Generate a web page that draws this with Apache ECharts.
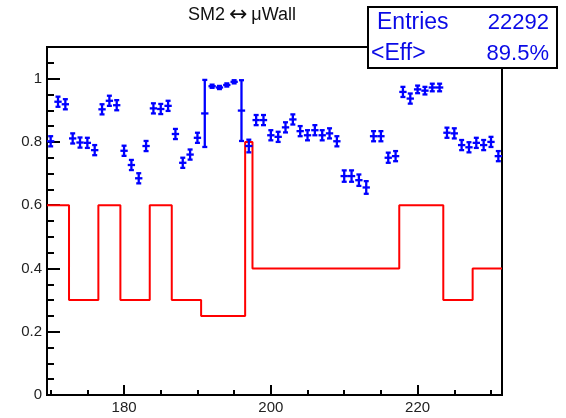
<!DOCTYPE html>
<html>
<head>
<meta charset="utf-8">
<script src="https://cdn.jsdelivr.net/npm/echarts@6/dist/echarts.min.js"></script>
<style>html,body{margin:0;padding:0;background:#fff}#c{width:566px;height:418px}</style>
</head>
<body>
<div id="c"></div>
<script>
// ---- data ----
const binCenters = [170,171,172,173,174,175,176,177,178,179,180,181,182,183,184,185,186,187,188,189,190,
  191,192,193,194,195,196,197,198,199,200,201,202,203,204,205,206,207,208,209,210,
  211,212,213,214,215,216,217,218,219,220,221,222,223,224,225,226,227,228,229,230,231];
const effValues = [0.802,0.927,0.919,0.811,0.798,0.797,0.774,0.903,0.930,0.916,0.772,0.727,0.685,0.787,0.906,0.904,0.914,0.825,0.734,0.760,0.813,
  0.890,0.976,0.972,0.980,0.990,0.899,0.787,0.869,0.869,0.821,0.816,0.846,0.871,0.834,0.821,0.837,0.821,0.827,0.802,0.692,
  0.692,0.679,0.656,0.818,0.818,0.750,0.755,0.958,0.937,0.966,0.962,0.972,0.972,0.829,0.827,0.790,0.783,0.797,0.790,0.800,0.755];
const effErrors = [0.016,0.016,0.016,0.016,0.016,0.016,0.016,0.016,0.016,0.016,0.016,0.016,0.016,0.016,0.016,0.016,0.016,0.016,0.016,0.016,0.016,
  0.106,0.005,0.005,0.005,0.005,0.096,0.02,0.016,0.016,0.016,0.016,0.016,0.016,0.016,0.016,0.016,0.016,0.016,0.016,0.018,
  0.018,0.018,0.02,0.016,0.016,0.016,0.016,0.016,0.016,0.012,0.012,0.012,0.012,0.016,0.016,0.016,0.016,0.016,0.016,0.016,0.016];
const refValues = [0.6,0.6,0.6,0.3,0.3,0.3,0.3,0.6,0.6,0.6,0.3,0.3,0.3,0.3,0.6,0.6,0.6,0.3,0.3,0.3,0.3,
  0.25,0.25,0.25,0.25,0.25,0.25,0.8,0.4,0.4,0.4,0.4,0.4,0.4,0.4,0.4,0.4,0.4,0.4,0.4,0.4,
  0.4,0.4,0.4,0.4,0.4,0.4,0.4,0.6,0.6,0.6,0.6,0.6,0.6,0.3,0.3,0.3,0.3,0.4,0.4,0.4,0.4];
const xMajorTicks = [180,200,220];
const xMinorTicks = [170,175,185,190,195,205,210,215,225,230];
const yMajorTicks = [0,0.2,0.4,0.6,0.8,1.0];
const yMinorTicks = [0.05,0.1,0.15,0.25,0.3,0.35,0.45,0.5,0.55,0.65,0.7,0.75,0.85,0.9,0.95,1.05];
const titleParts = ['SM2', '\u2194', '\u03bcWall'];
const statsRows = [['Entries','22292'],['<Eff>','89.5%']];

// ---- build ----
const xMin = 169.5, xMax = 231.5, yMin = 0, yMax = 1.1;
const stepData = [];
binCenters.forEach((c,i)=>{ stepData.push([c-0.5, refValues[i]]); stepData.push([c+0.5, refValues[i]]); });
const pointData = binCenters.map((c,i)=>[c, effValues[i], effErrors[i]]);

const FONT = "'Liberation Sans', Arial, sans-serif";
const WFONT = "'DejaVu Sans', sans-serif";
const gridRect = {left:47, right:64, top:47, bottom:23};

function renderItem(params, api){
  const x = api.value(0), y = api.value(1), e = api.value(2);
  const c = api.coord([x,y]);
  const l = api.coord([x-0.5,y]), r = api.coord([x+0.5,y]);
  const t = api.coord([x,y+e]), b = api.coord([x,y-e]);
  const st = {stroke:'#0000ff', lineWidth:2.3};
  const cap = 2.5;
  return {type:'group', children:[
    {type:'line', shape:{x1:l[0],y1:c[1],x2:r[0],y2:c[1]}, style:st},
    {type:'line', shape:{x1:c[0],y1:t[1],x2:c[0],y2:b[1]}, style:st},
    {type:'line', shape:{x1:c[0]-cap,y1:t[1],x2:c[0]+cap,y2:t[1]}, style:st},
    {type:'line', shape:{x1:c[0]-cap,y1:b[1],x2:c[0]+cap,y2:b[1]}, style:st}
  ]};
}

const chart = echarts.init(document.getElementById('c'), null, {renderer:'canvas'});
const axisLineStyle = {color:'#000', width:2};
const blue = '#0a0ae6';
chart.setOption({
  animation:false,
  backgroundColor:'#fff',
  grid:[
    Object.assign({show:true, borderColor:'#000', borderWidth:2, backgroundColor:'#fff'}, gridRect),
    Object.assign({show:false}, gridRect)
  ],
  xAxis:[
    {gridIndex:0, type:'value', min:xMin, max:xMax, position:'bottom',
     axisLine:{show:true, onZero:false, lineStyle:axisLineStyle},
     axisTick:{show:true, inside:true, length:10, customValues:xMajorTicks, lineStyle:{color:'#000',width:2}},
     axisLabel:{show:true, customValues:xMajorTicks, margin:5, color:'#222', fontSize:15, fontFamily:FONT},
     splitLine:{show:false}},
    {gridIndex:1, type:'value', min:xMin, max:xMax, position:'bottom',
     axisLine:{show:false},
     axisTick:{show:true, inside:true, length:5, customValues:xMinorTicks, lineStyle:{color:'#000',width:2}},
     axisLabel:{show:false}, splitLine:{show:false}}
  ],
  yAxis:[
    {gridIndex:0, type:'value', min:yMin, max:yMax, position:'left',
     axisLine:{show:true, onZero:false, lineStyle:axisLineStyle},
     axisTick:{show:true, inside:true, length:13, customValues:yMajorTicks, lineStyle:{color:'#000',width:2}},
     axisLabel:{show:true, customValues:yMajorTicks, margin:5, color:'#222', fontSize:15, fontFamily:FONT,
       formatter:v=>String(+(+v).toFixed(1))},
     splitLine:{show:false}},
    {gridIndex:1, type:'value', min:yMin, max:yMax, position:'left',
     axisLine:{show:false},
     axisTick:{show:true, inside:true, length:7, customValues:yMinorTicks, lineStyle:{color:'#000',width:2}},
     axisLabel:{show:false}, splitLine:{show:false}}
  ],
  series:[
    {type:'line', xAxisIndex:0, yAxisIndex:0, data:stepData, symbol:'none', clip:true,
     lineStyle:{color:'#ff0000', width:2}, z:2},
    {type:'custom', xAxisIndex:0, yAxisIndex:0, data:pointData, renderItem:renderItem, clip:true, z:3}
  ],
  graphic:[
    {type:'text', z:10, style:{
      text:'{t|'+titleParts[0]+'}{a|'+titleParts[1]+'}{t|'+titleParts[2]+'}',
      x:242, y:15, align:'center', verticalAlign:'middle',
      rich:{
        t:{fontSize:18, fontFamily:FONT, fill:'#111', color:'#111'},
        a:{fontSize:22, fontFamily:WFONT, fill:'#111', color:'#111', padding:[0,4,0,4]}
      }}},
    {type:'rect', z:10, shape:{x:368, y:7, width:189, height:61}, style:{fill:'#fff', stroke:'#000', lineWidth:2}},
    {type:'text', z:11, style:{text:statsRows[0][0], x:377, y:23, align:'left', verticalAlign:'middle', font:"23px "+FONT, fill:blue}},
    {type:'text', z:11, style:{text:statsRows[0][1], x:549, y:23, align:'right', verticalAlign:'middle', font:"22px "+FONT, fill:blue}},
    {type:'text', z:11, style:{text:statsRows[1][0], x:371, y:54, align:'left', verticalAlign:'middle', font:"23px "+FONT, fill:blue}},
    {type:'text', z:11, style:{text:statsRows[1][1], x:549, y:54, align:'right', verticalAlign:'middle', font:"22px "+FONT, fill:blue}}
  ]
});
</script>
</body>
</html>
